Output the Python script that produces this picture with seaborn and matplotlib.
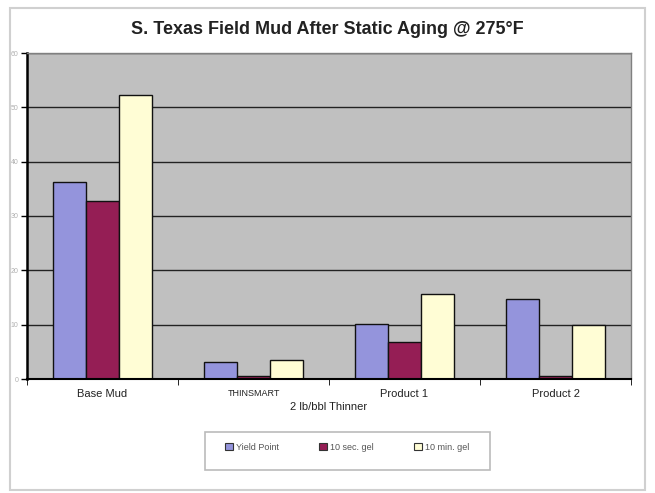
import pandas as pd
import seaborn as sns
import matplotlib.pyplot as plt
from matplotlib.patches import Rectangle, Patch

# Dados
produtos = ['Base Mud', 'THINSMART', 'Product 1', 'Product 2']
propriedades = ['Yield Point', '10 sec. gel', '10 min. gel']
yield_point = [36.3, 3.2, 10.1, 14.7]
gel_10s = [32.8, 0.6, 6.9, 0.5]
gel_10m = [52.3, 3.5, 15.7, 10.0]
y_ticks = [0, 10, 20, 30, 40, 50, 60]
cores = ['#9494DC', '#951E55', '#FFFDD5']

df = pd.DataFrame({
    'produto': produtos * 3,
    'propriedade': [p for p in propriedades for _ in produtos],
    'valor': yield_point + gel_10s + gel_10m,
})

sns.set_style('white')
plt.rcParams['font.family'] = ['Liberation Sans', 'DejaVu Sans']

fig = plt.figure(figsize=(6.55, 4.93), dpi=100)
fig.patch.set_facecolor('white')
ax = fig.add_axes([27 / 655, 1 - 379 / 493, 604 / 655, 326 / 493])
ax.set_facecolor('#C0C0C0')

sns.barplot(data=df, x='produto', y='valor', hue='propriedade',
            order=produtos, hue_order=propriedades, palette=cores,
            width=0.66, gap=0, edgecolor='#111111', linewidth=1,
            saturation=1, legend=False, ax=ax)

# Eixos e grade
ax.set_ylim(0, 60)
ax.set_yticks(y_ticks)
ax.set_yticklabels([str(t) for t in y_ticks], fontsize=5, color='#B0B0B0')
ax.yaxis.grid(True, color='#222222', linewidth=1)
ax.set_axisbelow(True)
ax.tick_params(axis='y', length=4, width=1, color='black', pad=2, left=True)
ax.tick_params(axis='x', length=0, pad=7)
ax.set_xticks([-0.5, 0.5, 1.5, 2.5, 3.5], minor=True)
ax.tick_params(axis='x', which='minor', length=4, color='black', bottom=True)
ax.set_xlim(-0.5, 3.5)

for lbl in ax.get_xticklabels():
    lbl.set_fontsize(8)
    lbl.set_color('#222222')
ax.get_xticklabels()[1].set_fontsize(6.5)

ax.spines['left'].set_color('black')
ax.spines['left'].set_linewidth(1.8)
ax.spines['bottom'].set_color('black')
ax.spines['bottom'].set_linewidth(1.5)
for s in ['top', 'right']:
    ax.spines[s].set_color('#808080')
    ax.spines[s].set_linewidth(1)

ax.set_xlabel('2 lb/bbl Thinner', fontsize=8, color='#222222', labelpad=2)
ax.set_ylabel('')

# Titulo
fig.text(0.5, 1 - 30 / 493, 'S. Texas Field Mud After Static Aging @ 275°F',
         ha='center', va='center', fontsize=13, fontweight='bold',
         color='#222222')

# Moldura externa
fig.patches.append(Rectangle((10 / 655, 1 - 490 / 493), 635 / 655, 482 / 493,
                             transform=fig.transFigure, fill=False,
                             edgecolor='#D0D0D0', linewidth=1.5))

# Legenda
fig.patches.append(Rectangle((205 / 655, 1 - 470 / 493), 285 / 655, 38 / 493,
                             transform=fig.transFigure, fill=False,
                             edgecolor='#BBBBBB', linewidth=1.2))
handles = [Patch(facecolor=c, edgecolor='#333333', linewidth=0.8) for c in cores]
fig.legend(handles, propriedades, loc='center', ncol=3,
           bbox_to_anchor=(347 / 655, 1 - 447 / 493), frameon=False,
           fontsize=6.5, handlelength=0.9, handleheight=0.9,
           handletextpad=0.3, columnspacing=4.5, labelcolor='#555555')

plt.savefig('out.png', dpi=100)
